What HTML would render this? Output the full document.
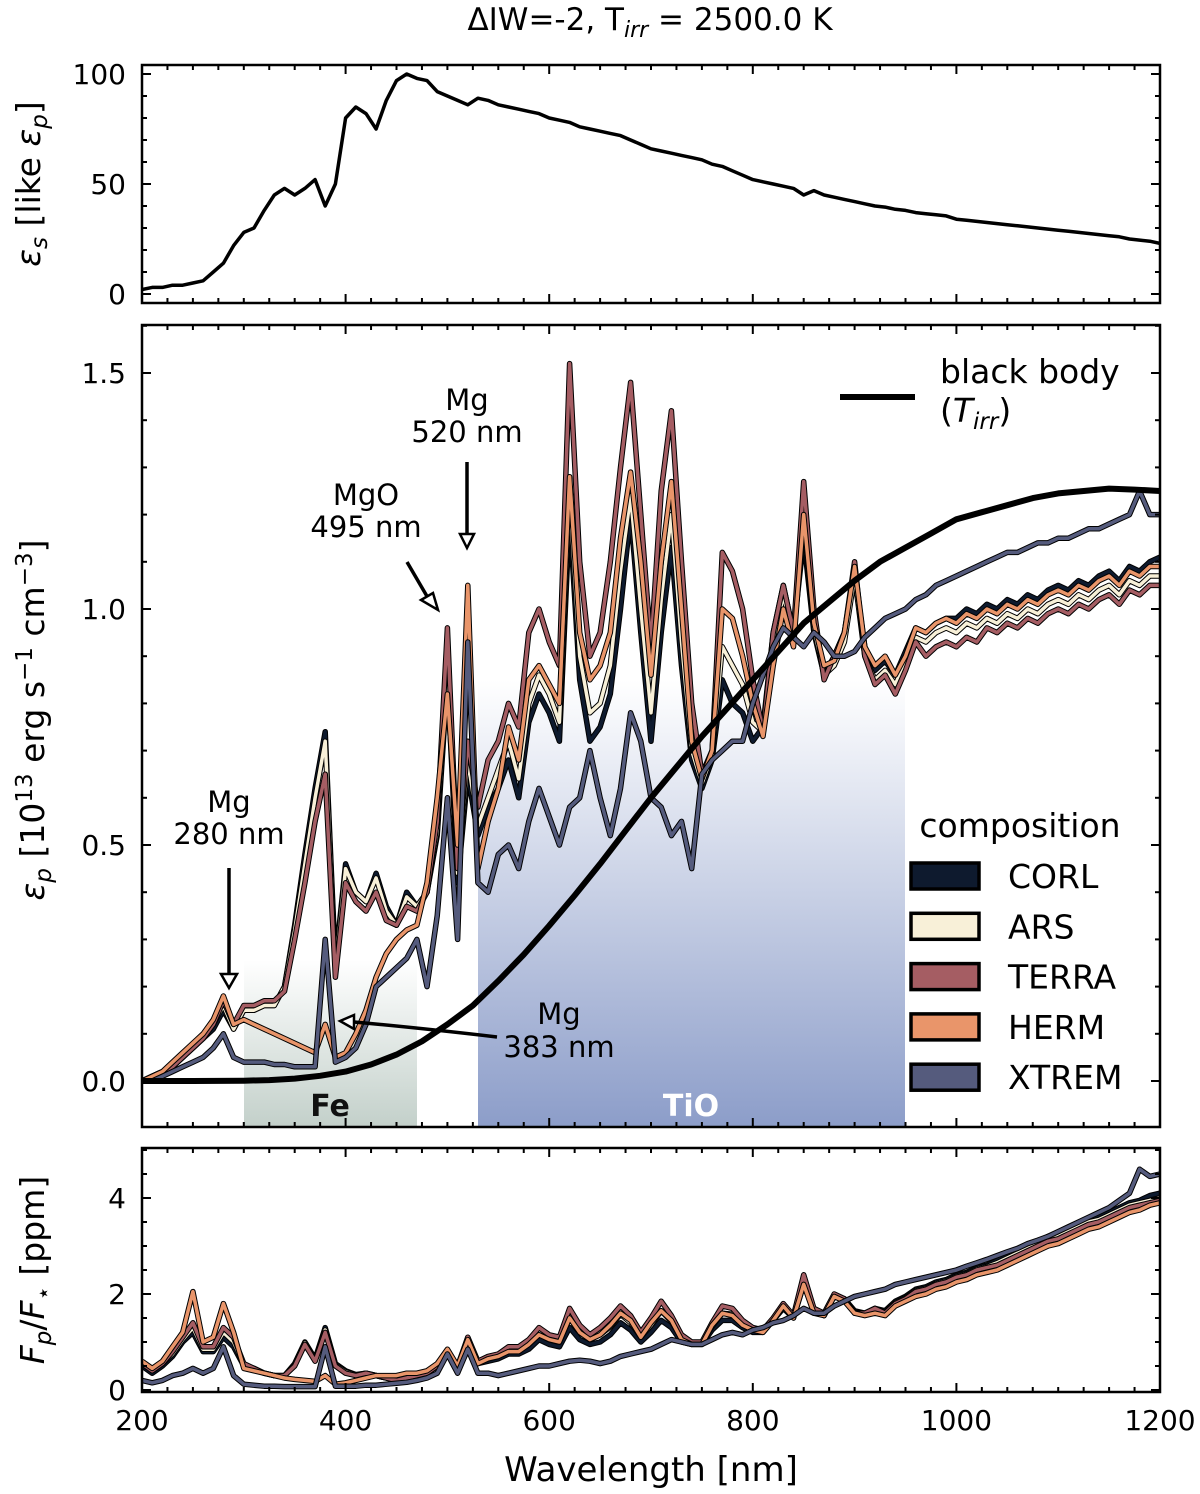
<!DOCTYPE html>
<html><head><meta charset="utf-8"><style>
html,body{margin:0;padding:0;background:#fff}
svg{display:block;font-family:"DejaVu Sans","Liberation Sans",sans-serif}
</style></head><body>
<svg id="chart" width="1200" height="1494" viewBox="0 0 1200 1494" xmlns="http://www.w3.org/2000/svg">
<defs>
<linearGradient id="gFe" x1="0" y1="0" x2="0" y2="1"><stop offset="0" stop-color="#c3d0ca" stop-opacity="0"/><stop offset="1" stop-color="#c3d0ca"/></linearGradient>
<linearGradient id="gTiO" x1="0" y1="0" x2="0" y2="1"><stop offset="0" stop-color="#8c9dc9" stop-opacity="0"/><stop offset="1" stop-color="#8c9dc9"/></linearGradient>
<clipPath id="cTop"><rect x="142" y="65" width="1018" height="238"/></clipPath>
<clipPath id="cMid"><rect x="142" y="325" width="1018" height="802"/></clipPath>
<clipPath id="cBot"><rect x="142" y="1148" width="1018" height="244"/></clipPath>
</defs>
<text x="650" y="30" font-size="31" text-anchor="middle">ΔIW=-2, T<tspan font-style="italic" font-size="22" dy="7">irr</tspan><tspan dy="-7"> = 2500.0 K</tspan></text>
<g><rect x="244" y="960" width="173" height="167" fill="url(#gFe)"/><text x="330" y="1116" font-size="30" font-weight="bold" text-anchor="middle" fill="#111">Fe</text></g>
<g><rect x="478" y="680" width="427" height="447" fill="url(#gTiO)"/><text x="691" y="1116" font-size="30" font-weight="bold" text-anchor="middle" fill="#fff">TiO</text></g>
<g id="plots"></g>
<g id="axes"></g>
<g id="annot" font-size="29" text-anchor="middle" fill="#000">
<text x="229" y="812">Mg</text><text x="229" y="844">280 nm</text>
<line x1="229" y1="868" x2="229" y2="975" stroke="#000" stroke-width="3.5"/><polygon points="221,974 237,974 229,988" fill="#fff" stroke="#000" stroke-width="2.5"/>
<text x="366" y="505">MgO</text><text x="366" y="537">495 nm</text>
<line x1="407" y1="562" x2="428" y2="598" stroke="#000" stroke-width="3.5"/><polygon points="421,600 433,593 438,610" fill="#fff" stroke="#000" stroke-width="2.5"/>
<text x="467" y="410">Mg</text><text x="467" y="442">520 nm</text>
<line x1="467" y1="462" x2="467" y2="535" stroke="#000" stroke-width="3.5"/><polygon points="460,534 474,534 467,548" fill="#fff" stroke="#000" stroke-width="2.5"/>
<text x="559" y="1024">Mg</text><text x="559" y="1057">383 nm</text>
<path d="M497,1037 Q420,1028 354,1022" fill="none" stroke="#000" stroke-width="3.5"/><polygon points="354,1015 354,1029 340,1021" fill="#fff" stroke="#000" stroke-width="2.5"/>
</g>
<g><line x1="840" y1="397" x2="915" y2="397" stroke="#000" stroke-width="6"/><text x="940" y="383" font-size="33">black body</text><text x="940" y="422" font-size="33">(<tspan font-style="italic">T</tspan><tspan font-style="italic" font-size="23" dy="7">irr</tspan><tspan dy="-7">)</tspan></text></g>
<g id="legend"><text x="1020" y="837" font-size="33" text-anchor="middle">composition</text></g>
</svg>
<script>
const wl=[];for(let w=200;w<=1200;w+=10)wl.push(w);
const compNames=["CORL","ARS","TERRA","HERM","XTREM"];
const compColors=["#0e1a2e","#f8f0d8","#a55d63","#e9956a","#555b7d"];
const starEps=[2,3,3,4,4,5,6,10,14,22, 28,30,38,45,48,45,48,52,40,50, 80,85,82,75,88,97,100,98,97,92, 90,88,86,89,88,86,85,84,83,82, 80,79,78,76,75,74,73,72,70,68, 66,65,64,63,62,61,59,58,56,54, 52,51,50,49,48,45,47,45,44,43, 42,41,40,39.5,38.5,38,37,36.5,36,35.5, 34,33.5,33,32.5,32,31.5,31,30.5,30,29.5, 29,28.5,28,27.5,27,26.5,26,25,24.5,24, 23];
const bbWl=[200,250,300,325,350,375,400,425,450,475,500,525,550,575,600,625,650,675,700,725,750,775,800,825,850,875,900,925,950,975,1000,1025,1050,1075,1100,1125,1150,1175,1200];
const bbVal=[0,0,0.0007,0.002,0.005,0.011,0.02,0.035,0.056,0.084,0.12,0.16,0.212,0.268,0.329,0.393,0.46,0.53,0.60,0.665,0.73,0.79,0.85,0.91,0.97,1.015,1.06,1.10,1.13,1.16,1.19,1.205,1.22,1.235,1.245,1.25,1.255,1.253,1.25];
const epCORL=[0,0.01,0.02,0.03,0.05,0.07,0.09,0.11,0.15,0.11, 0.15,0.15,0.16,0.16,0.20,0.33,0.48,0.62,0.74,0.25, 0.46,0.40,0.38,0.44,0.37,0.33,0.40,0.37,0.40,0.52, 0.85,0.42,0.65,0.52,0.58,0.62,0.68,0.60,0.76,0.82, 0.78,0.72,1.20,0.85,0.72,0.75,0.82,1.00,1.20,0.95, 0.72,0.95,1.13,0.88,0.68,0.62,0.68,0.85,0.80,0.78, 0.72,0.75,0.95,1.05,0.95,1.15,0.95,0.86,0.90,0.95, 1.08,0.92,0.87,0.89,0.86,0.91,0.96,0.95,0.97,0.98, 0.98,1.00,0.99,1.01,1.00,1.02,1.01,1.03,1.02,1.04, 1.05,1.04,1.06,1.05,1.07,1.08,1.06,1.09,1.08,1.10, 1.11];
const epARS=[0,0.01,0.02,0.03,0.05,0.07,0.09,0.12,0.16,0.11, 0.15,0.15,0.16,0.16,0.20,0.32,0.46,0.60,0.72,0.24, 0.45,0.40,0.38,0.43,0.36,0.33,0.39,0.37,0.40,0.53, 0.88,0.44,0.68,0.54,0.60,0.66,0.72,0.64,0.80,0.86, 0.82,0.76,1.24,0.90,0.78,0.80,0.88,1.08,1.24,1.00, 0.78,1.02,1.20,0.93,0.70,0.63,0.69,0.92,0.88,0.84, 0.76,0.74,0.92,1.03,0.94,1.18,0.96,0.86,0.88,0.93, 1.07,0.90,0.85,0.87,0.84,0.89,0.94,0.93,0.95,0.96, 0.95,0.97,0.96,0.98,0.97,0.99,0.98,1.00,0.99,1.01, 1.02,1.01,1.03,1.02,1.04,1.05,1.03,1.06,1.05,1.07, 1.07];
const epTERRA=[0,0.01,0.02,0.03,0.05,0.07,0.09,0.12,0.17,0.12, 0.16,0.16,0.17,0.17,0.19,0.30,0.42,0.55,0.65,0.22, 0.42,0.38,0.36,0.40,0.34,0.33,0.37,0.36,0.40,0.55, 0.96,0.45,0.72,0.58,0.68,0.72,0.80,0.75,0.95,1.00, 0.93,0.88,1.52,1.10,0.90,0.95,1.10,1.30,1.48,1.20, 0.92,1.25,1.42,1.10,0.80,0.65,0.70,1.12,1.08,1.00, 0.85,0.74,0.95,1.05,0.95,1.27,1.00,0.85,0.90,0.95, 1.10,0.90,0.84,0.86,0.82,0.87,0.93,0.90,0.92,0.93, 0.92,0.94,0.93,0.96,0.95,0.97,0.96,0.98,0.97,0.99, 1.00,0.99,1.01,1.00,1.02,1.03,1.01,1.04,1.03,1.05, 1.05];
const epHERM=[0,0.01,0.02,0.04,0.06,0.08,0.10,0.13,0.18,0.12, 0.13,0.12,0.11,0.10,0.09,0.08,0.07,0.06,0.12,0.05, 0.06,0.10,0.15,0.22,0.27,0.30,0.32,0.33,0.42,0.60, 0.82,0.50,1.05,0.45,0.55,0.62,0.75,0.68,0.85,0.88, 0.84,0.80,1.28,0.95,0.85,0.88,0.95,1.15,1.29,1.10, 0.86,1.10,1.27,1.00,0.72,0.64,0.70,1.00,0.98,0.90, 0.80,0.73,0.88,1.00,0.92,1.20,0.97,0.88,0.89,0.95, 1.09,0.92,0.88,0.90,0.86,0.90,0.96,0.95,0.97,0.98, 0.97,0.99,0.98,1.00,0.99,1.01,1.00,1.02,1.01,1.03, 1.04,1.03,1.05,1.04,1.06,1.07,1.05,1.08,1.07,1.09, 1.09];
const epXTREM=[0,0,0.01,0.02,0.03,0.04,0.05,0.07,0.10,0.05, 0.04,0.04,0.04,0.035,0.035,0.03,0.03,0.03,0.30,0.04, 0.05,0.07,0.12,0.20,0.22,0.24,0.26,0.30,0.20,0.35, 0.60,0.30,0.93,0.42,0.40,0.48,0.50,0.45,0.55,0.62, 0.56,0.50,0.58,0.60,0.70,0.60,0.52,0.62,0.78,0.72, 0.60,0.58,0.52,0.55,0.45,0.65,0.68,0.70,0.72,0.72, 0.80,0.86,0.92,0.96,0.94,0.92,0.95,0.93,0.90,0.90, 0.91,0.94,0.96,0.98,0.99,1.00,1.02,1.03,1.05,1.06, 1.07,1.08,1.09,1.10,1.11,1.12,1.12,1.13,1.14,1.14, 1.15,1.15,1.16,1.17,1.17,1.18,1.19,1.20,1.25,1.20, 1.20];
const frCORL=[0.5,0.35,0.5,0.7,1.0,1.2,0.8,0.8,1.1,0.9, 0.5,0.45,0.35,0.3,0.3,0.55,1.0,0.65,1.3,0.55, 0.4,0.32,0.35,0.3,0.25,0.2,0.25,0.3,0.35,0.5, 0.75,0.45,1.0,0.55,0.6,0.65,0.75,0.75,0.85,1.05, 0.95,0.9,1.3,1.05,0.95,1.0,1.15,1.4,1.25,1.0, 1.2,1.45,1.3,1.0,0.95,0.95,1.25,1.45,1.45,1.3, 1.2,1.2,1.45,1.7,1.5,2.2,1.65,1.55,1.95,1.9, 1.65,1.6,1.7,1.65,1.85,1.95,2.1,2.15,2.25,2.3, 2.4,2.45,2.55,2.6,2.7,2.8,2.9,3.0,3.1,3.2, 3.25,3.35,3.45,3.55,3.6,3.7,3.8,3.9,3.95,4.05, 4.1];
const frARS=[0.55,0.4,0.55,0.75,1.05,1.3,0.85,0.85,1.2,1.0, 0.52,0.45,0.35,0.3,0.3,0.52,0.98,0.62,1.25,0.52, 0.38,0.31,0.35,0.3,0.25,0.2,0.25,0.3,0.35,0.5, 0.78,0.48,1.05,0.58,0.65,0.7,0.82,0.82,0.95,1.15, 1.05,1.0,1.5,1.2,1.05,1.15,1.32,1.58,1.4,1.1, 1.35,1.65,1.42,1.08,0.97,0.97,1.32,1.6,1.58,1.38, 1.25,1.22,1.47,1.75,1.52,2.3,1.68,1.57,1.97,1.9, 1.62,1.6,1.7,1.62,1.82,1.92,2.07,2.12,2.22,2.27, 2.37,2.42,2.52,2.57,2.65,2.75,2.85,2.95,3.05,3.15, 3.2,3.3,3.4,3.5,3.55,3.65,3.75,3.85,3.9,3.95, 4.0];
const frTERRA=[0.55,0.4,0.55,0.8,1.1,1.4,0.9,0.9,1.3,1.1, 0.55,0.45,0.35,0.3,0.3,0.5,0.95,0.6,1.2,0.5, 0.35,0.3,0.35,0.3,0.25,0.2,0.25,0.3,0.35,0.5, 0.8,0.5,1.1,0.6,0.7,0.75,0.9,0.9,1.05,1.3, 1.15,1.1,1.7,1.35,1.15,1.3,1.5,1.75,1.55,1.2, 1.5,1.85,1.55,1.15,1.0,1.0,1.4,1.75,1.7,1.45, 1.3,1.25,1.5,1.8,1.55,2.4,1.7,1.6,2.0,1.9, 1.6,1.6,1.7,1.6,1.8,1.9,2.05,2.1,2.2,2.25, 2.35,2.4,2.5,2.55,2.6,2.7,2.8,2.9,3.0,3.1, 3.15,3.25,3.35,3.45,3.5,3.6,3.7,3.8,3.85,3.9, 3.95];
const frHERM=[0.6,0.45,0.6,0.9,1.2,2.05,1.0,1.1,1.8,1.2, 0.45,0.4,0.35,0.3,0.25,0.22,0.2,0.18,0.3,0.12, 0.15,0.2,0.25,0.3,0.3,0.3,0.35,0.35,0.4,0.55, 0.85,0.5,1.05,0.55,0.65,0.7,0.8,0.8,0.95,1.15, 1.05,1.0,1.5,1.2,1.05,1.15,1.35,1.6,1.45,1.1, 1.4,1.65,1.45,1.05,0.95,0.95,1.35,1.6,1.55,1.35, 1.25,1.2,1.45,1.75,1.5,2.2,1.6,1.55,1.95,1.85, 1.6,1.55,1.6,1.55,1.75,1.85,1.95,2.0,2.1,2.15, 2.25,2.3,2.4,2.45,2.5,2.6,2.7,2.8,2.9,3.0, 3.05,3.15,3.25,3.35,3.4,3.5,3.6,3.7,3.75,3.85, 3.9];
const frXTREM=[0.2,0.15,0.2,0.3,0.35,0.45,0.35,0.45,0.9,0.3, 0.12,0.1,0.08,0.08,0.07,0.07,0.07,0.07,0.9,0.08, 0.08,0.08,0.1,0.1,0.12,0.14,0.16,0.2,0.25,0.35, 0.75,0.35,0.85,0.35,0.35,0.3,0.35,0.4,0.45,0.5, 0.5,0.55,0.6,0.62,0.6,0.55,0.6,0.7,0.75,0.8, 0.85,0.95,1.05,1.0,0.95,0.95,1.05,1.15,1.2,1.15, 1.25,1.3,1.4,1.45,1.55,1.7,1.6,1.6,1.75,1.85, 1.95,2.0,2.05,2.1,2.2,2.25,2.3,2.35,2.4,2.45, 2.5,2.58,2.65,2.72,2.8,2.88,2.95,3.05,3.12,3.2, 3.3,3.4,3.5,3.6,3.7,3.8,3.95,4.1,4.6,4.45, 4.5];
const xTicks=[200,400,600,800,1000,1200];
const topTicks=[0,50,100], topLabels=["0","50","100"];
const midTicks=[0,0.5,1.0,1.5], midLabels=["0.0","0.5","1.0","1.5"];
const botTicks=[0,2,4], botLabels=["0","2","4"];

const NS="http://www.w3.org/2000/svg";
const X0=142,X1=1160;
const sx=w=>X0+(w-200)*(X1-X0)/1000;
const panels={
 top:{y0:65,y1:303,sy:v=>294-v*2.2,clip:"cTop",minor:10,maxV:110},
 mid:{y0:325,y1:1127,sy:v=>1081-v*472,clip:"cMid",minor:0.1,maxV:1.6},
 bot:{y0:1148,y1:1392,sy:v=>1390-v*48,clip:"cBot",minor:0.5,maxV:5}
};
function mk(tag,attrs,parent){const e=document.createElementNS(NS,tag);for(const k in attrs)e.setAttribute(k,attrs[k]);parent.appendChild(e);return e;}
const plots=document.getElementById("plots"),axes=document.getElementById("axes");
function series(p,xs,ys,color,w,name,outline){
 const d=xs.map((x,i)=>(i?"L":"M")+sx(x).toFixed(1)+","+p.sy(ys[i]).toFixed(1)).join("");
 const g=mk("g",{"clip-path":"url(#"+p.clip+")"},plots);
 
 
 if(outline){mk("path",{d:d,fill:"none",stroke:"#000","stroke-width":w+2,"stroke-linejoin":"round"},g);}
 mk("path",{d:d,fill:"none",stroke:color,"stroke-width":w,"stroke-linejoin":"round"},g);
}
series(panels.top,wl,starEps,"#000",3.5,"stellar-spectrum-line",false);
const epSets=[epCORL,epARS,epTERRA,epHERM,epXTREM];
const frSets=[frCORL,frARS,frTERRA,frHERM,frXTREM];
epSets.forEach((s,i)=>series(panels.mid,wl,s,compColors[i],3.5,"emission-line-"+compNames[i].toLowerCase(),true));
series(panels.mid,bbWl,bbVal,"#000",6,"blackbody-line",false);
frSets.forEach((s,i)=>series(panels.bot,wl,s,compColors[i],3.5,"flux-ratio-line-"+compNames[i].toLowerCase(),true));

function axis(key,ticks,labels,showX){
 const p=panels[key];
 const fr=mk("rect",{x:X0,y:p.y0,width:X1-X0,height:p.y1-p.y0,fill:"none",stroke:"#000","stroke-width":2.5},axes);
 
 
 for(let w=200;w<=1200;w+=25){const maj=w%200===0;const L=maj?9:5;
  mk("line",{x1:sx(w),x2:sx(w),y1:p.y1,y2:p.y1-L,stroke:"#000","stroke-width":2},axes);
  mk("line",{x1:sx(w),x2:sx(w),y1:p.y0,y2:p.y0+L,stroke:"#000","stroke-width":2},axes);}
 for(let v=0;v<=p.maxV+1e-9;v+=p.minor){const y=p.sy(v);if(y<p.y0||y>p.y1)continue;
  const maj=ticks.some(t=>Math.abs(t-v)<1e-6);const L=maj?9:5;
  mk("line",{x1:X0,x2:X0+L,y1:y,y2:y,stroke:"#000","stroke-width":2},axes);
  mk("line",{x1:X1,x2:X1-L,y1:y,y2:y,stroke:"#000","stroke-width":2},axes);}
 ticks.forEach((t,i)=>{const tx=mk("text",{x:126,y:p.sy(t)+10,"font-size":28,"text-anchor":"end"},axes);tx.textContent=labels[i];
  
  });
 if(showX){xTicks.forEach(t=>{const tx=mk("text",{x:sx(t),y:1430,"font-size":28,"text-anchor":"middle"},axes);tx.textContent=String(t);
  
  });}
}
axis("top",topTicks,topLabels,false);
axis("mid",midTicks,midLabels,false);
axis("bot",botTicks,botLabels,true);

function ylabel(cx,cy,html,name){const t=mk("text",{transform:"translate("+cx+","+cy+") rotate(-90)","font-size":33,"text-anchor":"middle"},axes);t.innerHTML=html;
 
 }
ylabel(40,184,'<tspan font-style="italic">ε</tspan><tspan font-style="italic" font-size="23" dy="7">s</tspan><tspan dy="-7"> [like </tspan><tspan font-style="italic">ε</tspan><tspan font-style="italic" font-size="23" dy="7">p</tspan><tspan dy="-7">]</tspan>',"top-y-axis-title");
ylabel(44,720,'<tspan font-style="italic">ε</tspan><tspan font-style="italic" font-size="23" dy="7">p</tspan><tspan dy="-7"> [10</tspan><tspan font-size="23" dy="-12">13</tspan><tspan dy="12"> erg s</tspan><tspan font-size="23" dy="-12">−1</tspan><tspan dy="12"> cm</tspan><tspan font-size="23" dy="-12">−3</tspan><tspan dy="12">]</tspan>',"mid-y-axis-title");
ylabel(44,1270,'<tspan font-style="italic">F</tspan><tspan font-style="italic" font-size="23" dy="7">p</tspan><tspan dy="-7">/</tspan><tspan font-style="italic">F</tspan><tspan font-size="23" dy="7">⋆</tspan><tspan dy="-7"> [ppm]</tspan>',"bot-y-axis-title");
const xl=mk("text",{x:651,y:1481,"font-size":34,"text-anchor":"middle"},axes);xl.textContent="Wavelength [nm]";



const leg=document.getElementById("legend");
compNames.forEach((n,i)=>{const cy=876+i*50.3;
 const g=mk("g",{},leg);
 
 
 mk("rect",{x:911,y:cy-13,width:68,height:26,fill:compColors[i],stroke:"#000","stroke-width":3.5},g);
 const t=mk("text",{x:1008,y:cy+12,"font-size":33},g);t.textContent=n;});
</script>
</body></html>
